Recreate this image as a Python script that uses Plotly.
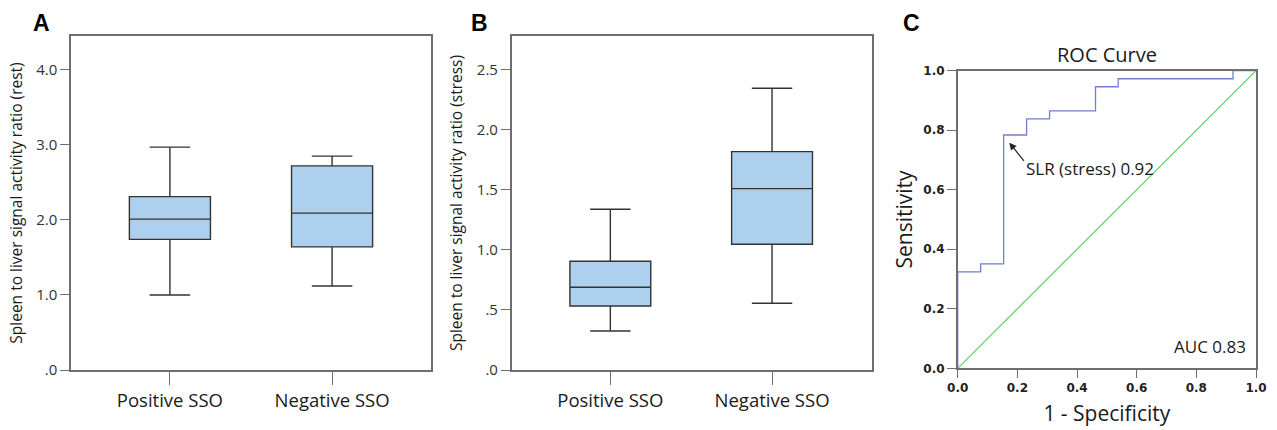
import plotly.graph_objects as go

# ---------------- data ----------------
groups = ["Positive SSO", "Negative SSO"]

# Panel A: spleen-to-liver ratio (rest)
rest_low = [1.00, 1.12]
rest_q1 = [1.74, 1.64]
rest_med = [2.01, 2.09]
rest_q3 = [2.31, 2.72]
rest_high = [2.97, 2.85]

# Panel B: spleen-to-liver ratio (stress)
stress_low = [0.325, 0.555]
stress_q1 = [0.533, 1.047]
stress_med = [0.689, 1.510]
stress_q3 = [0.905, 1.818]
stress_high = [1.338, 2.345]

# Panel C: ROC curve
roc_fpr = [0.0, 0.0, 0.077, 0.154, 0.231, 0.308, 0.462, 0.538, 0.923, 1.0]
roc_tpr = [0.0, 0.324, 0.351, 0.784, 0.838, 0.865, 0.946, 0.973, 1.0, 1.0]
ref_x = [0.0, 1.0]
ref_y = [0.0, 1.0]

a_ticks = [0, 1, 2, 3, 4]
a_ticklabels = [".0", "1.0", "2.0", "3.0", "4.0"]
b_ticks = [0, 0.5, 1.0, 1.5, 2.0, 2.5]
b_ticklabels = [".0", ".5", "1.0", "1.5", "2.0", "2.5"]
c_ticks = [0, 0.2, 0.4, 0.6, 0.8, 1.0]
c_ticklabels = ["0.0", "0.2", "0.4", "0.6", "0.8", "1.0"]

# ---------------- styling ----------------
FONT = "Open Sans"
BOX_FILL = "#aed0ef"
BOX_LINE = "#333333"
FRAME = "#6e6e6e"
W, H = 1277, 430

fig = go.Figure()

fig.add_trace(go.Box(
    x=[0, 1], q1=rest_q1, median=rest_med, q3=rest_q3,
    lowerfence=rest_low, upperfence=rest_high,
    fillcolor=BOX_FILL, line=dict(color=BOX_LINE, width=1.4),
    width=0.5, whiskerwidth=0.5, boxpoints=False,
    xaxis="x", yaxis="y", showlegend=False, hoverinfo="skip"))

fig.add_trace(go.Box(
    x=[0, 1], q1=stress_q1, median=stress_med, q3=stress_q3,
    lowerfence=stress_low, upperfence=stress_high,
    fillcolor=BOX_FILL, line=dict(color=BOX_LINE, width=1.4),
    width=0.5, whiskerwidth=0.5, boxpoints=False,
    xaxis="x2", yaxis="y2", showlegend=False, hoverinfo="skip"))

fig.add_trace(go.Scatter(
    x=ref_x, y=ref_y, mode="lines", line=dict(color="#5fcf6b", width=1.2),
    xaxis="x3", yaxis="y3", showlegend=False, hoverinfo="skip"))
fig.add_trace(go.Scatter(
    x=roc_fpr, y=roc_tpr, mode="lines", line=dict(color="#6f80d2", width=1.3, shape="hv"),
    xaxis="x3", yaxis="y3", showlegend=False, hoverinfo="skip"))

frame = dict(showline=True, linecolor=FRAME, linewidth=1.5, mirror=True,
             showgrid=False, zeroline=False, ticks="outside", tickcolor=FRAME,
             automargin=False)

yA = (1 - 370 / H, 1 - 36 / H)
yC = (1 - 368.3 / H, 1 - 70.7 / H)

fig.update_layout(
    width=W, height=H, margin=dict(l=0, r=0, t=0, b=0, autoexpand=False),
    paper_bgcolor="white", plot_bgcolor="white",
    font=dict(family=FONT, color="#1a1a1a"),
    xaxis=dict(domain=(71 / W, 431 / W), range=[-0.61, 1.61],
               tickmode="array", tickvals=[0, 1], ticktext=groups,
               ticklen=13, tickfont=dict(size=18.5, color="#1a1a1a"), anchor="y", **frame),
    yaxis=dict(domain=yA, range=[0, 4.45], tickmode="array",
               tickvals=a_ticks, ticktext=a_ticklabels, ticklen=9,
               tickfont=dict(size=15, color="#333"), anchor="x",
               title=dict(text="Spleen to liver signal activity ratio (rest)",
                          font=dict(size=15.5, color="#1a1a1a"), standoff=10), **frame),
    xaxis2=dict(domain=(511.7 / W, 872.3 / W), range=[-0.61, 1.62],
                tickmode="array", tickvals=[0, 1], ticktext=groups,
                ticklen=13, tickfont=dict(size=18.5, color="#1a1a1a"), anchor="y2", **frame),
    yaxis2=dict(domain=yA, range=[0, 2.78], tickmode="array",
                tickvals=b_ticks, ticktext=b_ticklabels, ticklen=9,
                tickfont=dict(size=15, color="#333"), anchor="x2",
                title=dict(text="Spleen to liver signal activity ratio (stress)",
                           font=dict(size=15.5, color="#1a1a1a"), standoff=10), **frame),
    xaxis3=dict(domain=(957.7 / W, 1256 / W), range=[0, 1], tickmode="array",
                tickvals=c_ticks, ticktext=c_ticklabels, ticklen=8,
                tickfont=dict(family="DejaVu Sans", size=12, color="#222", weight="bold"),
                anchor="y3",
                title=dict(text="1 - Specificity", font=dict(size=21, color="#1a1a1a"), standoff=12),
                **frame),
    yaxis3=dict(domain=yC, range=[0, 1], tickmode="array",
                tickvals=c_ticks, ticktext=c_ticklabels, ticklen=9,
                tickfont=dict(family="DejaVu Sans", size=12, color="#222", weight="bold"),
                anchor="x3",
                title=dict(text="Sensitivity", font=dict(size=21, color="#1a1a1a"), standoff=5),
                **frame),
)

# panel letters
for letter, px in [("A", 31), ("B", 469), ("C", 901)]:
    fig.add_annotation(text=letter, x=px / W, y=1 - 8 / H, xref="paper", yref="paper",
                       xanchor="left", yanchor="top", showarrow=False,
                       font=dict(family="Arial", size=23, color="black", weight="bold"))

# ROC title
fig.add_annotation(text="ROC Curve", x=0.5, y=1, xref="x3 domain", yref="y3 domain",
                   xanchor="center", yanchor="bottom", yshift=1, showarrow=False,
                   font=dict(size=20, color="#1a1a1a"))

# SLR arrow + label
fig.add_annotation(x=0.173, y=0.758, ax=0.226, ay=0.692, xref="x3", yref="y3",
                   axref="x3", ayref="y3", text="", showarrow=True,
                   arrowhead=2, arrowsize=1.2, arrowwidth=1.2, arrowcolor="#222")
fig.add_annotation(text="SLR (stress) 0.92", x=0.223, y=0.672, xref="x3", yref="y3",
                   xanchor="left", yanchor="middle", showarrow=False,
                   font=dict(size=17, color="#1a1a1a"))
fig.add_annotation(text="AUC 0.83", x=0.972, y=0.073, xref="x3", yref="y3",
                   xanchor="right", yanchor="middle", showarrow=False,
                   font=dict(size=17, color="#1a1a1a"))

fig.write_html("out.html", config={"displayModeBar": False},
               post_script="document.body.style.margin='0';document.body.style.overflow='hidden';")
